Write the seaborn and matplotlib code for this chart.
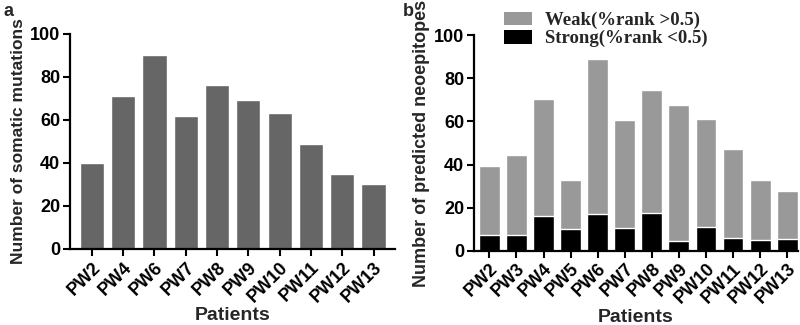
import matplotlib
matplotlib.use("Agg")
import matplotlib.pyplot as plt
import seaborn as sns
import pandas as pd
from matplotlib.patches import Patch

sns.set_theme(style="ticks")
plt.rcParams['font.family'] = ['Liberation Sans', 'DejaVu Sans']
plt.rcParams['font.weight'] = 'bold'

# Panel a data
patients_a = ["PW2", "PW4", "PW6", "PW7", "PW8", "PW9", "PW10", "PW11", "PW12", "PW13"]
mutations = [40, 71, 90, 62, 76, 69, 63, 49, 35, 30]

# Panel b data
patients_b = ["PW2", "PW3", "PW4", "PW5", "PW6", "PW7", "PW8", "PW9", "PW10", "PW11", "PW12", "PW13"]
total_neo = [39.5, 44.5, 70.5, 33, 89, 60.5, 74.5, 67.5, 61, 47, 33, 27.5]
strong_neo = [7.5, 7.5, 16, 10, 17, 10.5, 17.5, 4.5, 11, 6, 5, 5.5]
y_ticks = [0, 20, 40, 60, 80, 100]

df_a = pd.DataFrame({"patient": patients_a, "value": mutations})
df_b = pd.DataFrame({"patient": patients_b, "total": total_neo, "strong": strong_neo})

fig = plt.figure(figsize=(8, 3.25), dpi=100)
ax1 = fig.add_axes([0.0875, 0.234, 0.406, 0.662])
ax2 = fig.add_axes([0.5925, 0.2286, 0.405, 0.663])

sns.barplot(data=df_a, x="patient", y="value", color="#666666", width=0.77,
            saturation=1, ax=ax1)
sns.barplot(data=df_b, x="patient", y="total", color="#999999", width=0.77,
            saturation=1, ax=ax2)
sns.barplot(data=df_b, x="patient", y="strong", color="#000000", width=0.77,
            saturation=1, ax=ax2)

ax1.set_xlim(-0.7, 9.68)
ax2.set_xlim(-0.57, 11.4)

for ax, ylab, ysz in [(ax1, "Number of somatic mutations", 12.5),
                      (ax2, "Number of predicted neoepitopes", 13)]:
    ax.set_ylim(0, 100)
    ax.set_yticks(y_ticks)
    ax.set_ylabel(ylab, fontsize=ysz, fontweight='bold', labelpad=3)
    ax.set_xlabel("Patients", fontsize=14, fontweight='bold', labelpad=1)
    for s in ["top", "right"]:
        ax.spines[s].set_visible(False)
    for s in ["left", "bottom"]:
        ax.spines[s].set_linewidth(1.6)
        ax.spines[s].set_color("black")
    ax.tick_params(axis='both', direction='out', length=5, width=1.5, colors='black',
                   labelsize=13, pad=2)
    for lbl in ax.get_xticklabels():
        lbl.set_rotation(45)
        lbl.set_ha('right')
        lbl.set_rotation_mode('anchor')
        lbl.set_fontweight('bold')
    for lbl in ax.get_yticklabels():
        lbl.set_fontweight('bold')

handles = [Patch(facecolor="#999999", edgecolor="none", label="Weak(%rank >0.5)"),
           Patch(facecolor="#000000", edgecolor="none", label="Strong(%rank <0.5)")]
fig.legend(handles=handles, loc="upper left", bbox_to_anchor=(0.614, 1.005),
           frameon=False, handlelength=1.45, handleheight=0.75, handletextpad=0.7,
           labelspacing=0.05, borderaxespad=0.3,
           prop={'family': 'Liberation Serif', 'weight': 'bold', 'size': 13.5})

fig.text(0.004, 0.99, "a", fontsize=13, fontweight='bold', va='top', ha='left')
fig.text(0.504, 0.99, "b", fontsize=13, fontweight='bold', va='top', ha='left')

fig.savefig("out.png", dpi=100)
